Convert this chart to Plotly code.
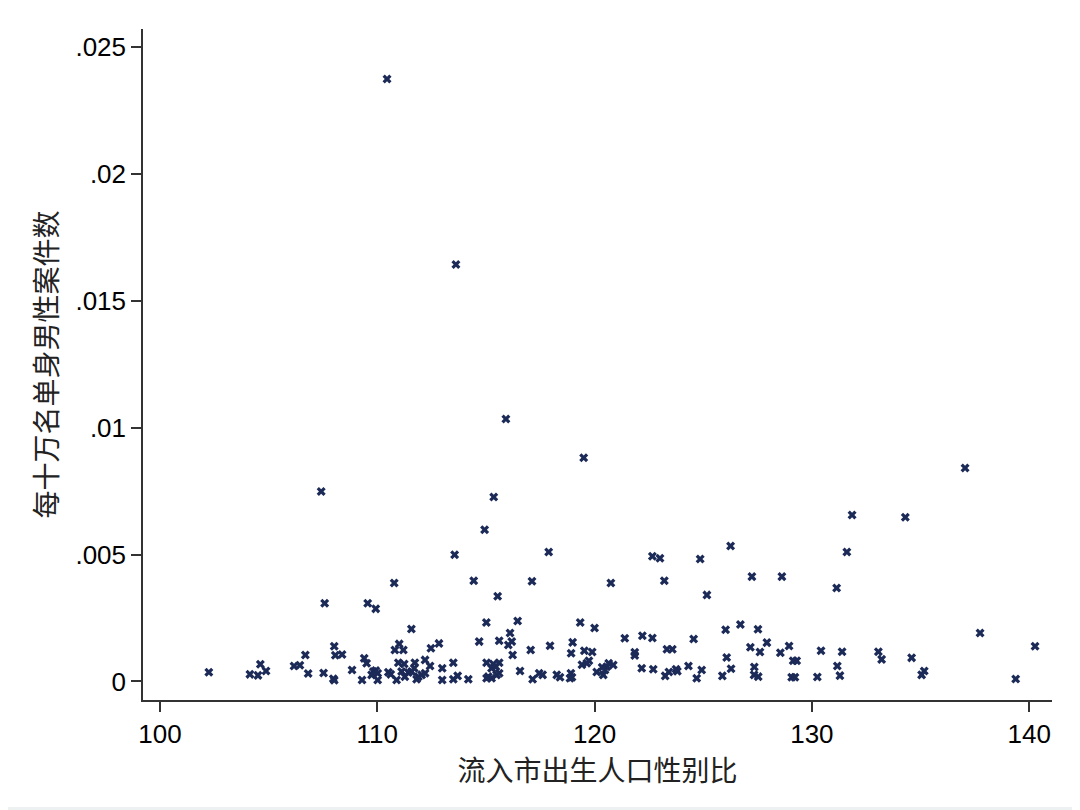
import plotly.graph_objects as go

# 流入市出生人口性别比 (x) vs 每十万名单身男性案件数 (y)
sex_ratio = [
    110.45, 113.62, 115.92, 119.50, 137.05, 107.42, 115.36, 131.85, 134.30, 114.94,
    113.56, 117.89, 122.66, 123.01, 124.86, 126.26, 131.61, 127.24, 128.62, 123.21,
    120.75, 117.12, 114.44, 110.78, 131.14, 125.17, 115.54, 107.58, 109.56, 109.93,
    102.25, 108.02, 108.07, 108.38, 106.69, 106.17, 106.44, 106.82, 107.53, 107.98,
    108.02, 104.62, 104.88, 104.14, 104.51, 108.84, 109.30, 109.40, 109.51, 111.01,
    110.81, 111.20, 112.47, 112.84, 110.97, 111.24, 111.73, 112.20, 112.43, 113.50,
    112.99, 109.82, 109.93, 110.02, 109.74, 110.51, 110.62, 111.12, 111.43, 111.27,
    111.58, 111.70, 111.89, 112.04, 112.20, 110.02, 110.89, 111.81, 112.99, 113.50,
    113.70, 114.69, 115.61, 116.03, 116.19, 117.06, 117.95, 116.23, 115.03, 115.34,
    115.61, 115.26, 115.46, 115.61, 115.49, 115.11, 115.26, 115.03, 114.19, 116.57,
    117.15, 117.45, 117.61, 118.26, 111.57, 115.02, 116.46, 119.34, 120.00, 116.11,
    118.99, 118.92, 119.53, 119.89, 119.42, 119.74, 119.64, 120.10, 120.35, 120.56,
    120.65, 120.40, 118.41, 118.91, 118.96, 118.87, 121.39, 122.20, 122.66, 124.56,
    121.85, 121.85, 123.33, 123.58, 126.03, 126.71, 127.52, 127.93, 127.17, 127.61,
    128.55, 128.95, 130.42, 131.39, 126.08, 129.14, 129.30, 120.86, 120.48, 122.17,
    122.70, 123.25, 123.42, 123.75, 123.81, 124.32, 124.70, 124.93, 125.88, 126.28,
    127.35, 127.34, 127.53, 129.07, 129.22, 130.25, 131.17, 131.29, 133.06, 133.21,
    134.59, 135.17, 135.05, 137.74, 139.38, 140.27,
]
case_rate = [
    0.02373, 0.01642, 0.01034, 0.00881, 0.00841, 0.00748, 0.00727, 0.00656, 0.00647, 0.00598,
    0.00499, 0.00510, 0.00493, 0.00485, 0.00482, 0.00534, 0.00510, 0.00413, 0.00413, 0.00397,
    0.00388, 0.00395, 0.00397, 0.00388, 0.00368, 0.00341, 0.00336, 0.00308, 0.00308, 0.00286,
    0.00036, 0.00139, 0.00103, 0.00106, 0.00104, 0.00061, 0.00064, 0.00031, 0.00033, 0.00011,
    0.00005, 0.00068, 0.00041, 0.00028, 0.00024, 0.00045, 0.00006, 0.00091, 0.00072, 0.00148,
    0.00124, 0.00124, 0.00131, 0.00150, 0.00074, 0.00069, 0.00074, 0.00085, 0.00061, 0.00074,
    0.00052, 0.00039, 0.00043, 0.00032, 0.00026, 0.00036, 0.00028, 0.00039, 0.00035, 0.00019,
    0.00039, 0.00052, 0.00019, 0.00026, 0.00032, 0.00006, 0.00006, 0.00009, 0.00006, 0.00009,
    0.00022, 0.00157, 0.00160, 0.00144, 0.00157, 0.00124, 0.00141, 0.00104, 0.00074, 0.00069,
    0.00074, 0.00052, 0.00058, 0.00032, 0.00026, 0.00019, 0.00013, 0.00013, 0.00009, 0.00041,
    0.00009, 0.00032, 0.00026, 0.00026, 0.00207, 0.00232, 0.00238, 0.00232, 0.00211, 0.00191,
    0.00154, 0.00111, 0.00121, 0.00116, 0.00066, 0.00082, 0.00072, 0.00037, 0.00056, 0.00058,
    0.00072, 0.00026, 0.00017, 0.00032, 0.00017, 0.00013, 0.00170, 0.00180, 0.00171, 0.00167,
    0.00115, 0.00102, 0.00127, 0.00127, 0.00204, 0.00224, 0.00206, 0.00153, 0.00135, 0.00116,
    0.00113, 0.00140, 0.00121, 0.00117, 0.00094, 0.00082, 0.00082, 0.00065, 0.00045, 0.00052,
    0.00048, 0.00022, 0.00037, 0.00048, 0.00040, 0.00061, 0.00013, 0.00045, 0.00022, 0.00050,
    0.00057, 0.00026, 0.00019, 0.00017, 0.00017, 0.00018, 0.00061, 0.00023, 0.00117, 0.00087,
    0.00093, 0.00041, 0.00026, 0.00191, 0.00010, 0.00139,
]

x_ticks = [100, 110, 120, 130, 140]
y_ticks = [0, 0.005, 0.01, 0.015, 0.02, 0.025]
y_tick_labels = ["0", ".005", ".01", ".015", ".02", ".025"]

latin = "Liberation Sans, Arial, sans-serif"
cjk = "Noto Sans CJK SC, sans-serif"
navy = "#1c2a58"

fig = go.Figure()

fig.add_trace(
    go.Scatter(
        x=sex_ratio,
        y=case_rate,
        mode="markers",
        marker=dict(symbol="x", size=8, color=navy, line=dict(width=0)),
        showlegend=False,
    )
)

# light outer frame like the exported graph window
fig.add_shape(
    type="rect", xref="paper", yref="paper",
    x0=-0.2, x1=1.0253, y0=-0.1595, y1=1.2,
    fillcolor="white", line=dict(width=0), layer="below",
)

axis_common = dict(
    showline=True, linecolor="#333333", linewidth=1.5,
    ticks="outside", ticklen=10, tickwidth=1.5, tickcolor="#333333",
    showgrid=False, zeroline=False,
    tickfont=dict(family=latin, size=26, color="black"),
)

fig.update_xaxes(
    range=[99.22, 141.05],
    tickvals=x_ticks,
    title=dict(text="流入市出生人口性别比", font=dict(family=cjk, size=28, color="#222222"), standoff=4),
    **axis_common,
)
fig.update_yaxes(
    range=[-0.00073, 0.0257],
    tickvals=y_ticks,
    ticktext=y_tick_labels,
    title=dict(text="每十万名单身男性案件数", font=dict(family=cjk, size=28, color="#222222"), standoff=10),
    **axis_common,
)

fig.update_layout(
    width=1080, height=810,
    margin=dict(l=135, r=36, t=21, b=118),
    paper_bgcolor="#edf1f2",
    plot_bgcolor="white",
)

fig.write_html("out.html")
